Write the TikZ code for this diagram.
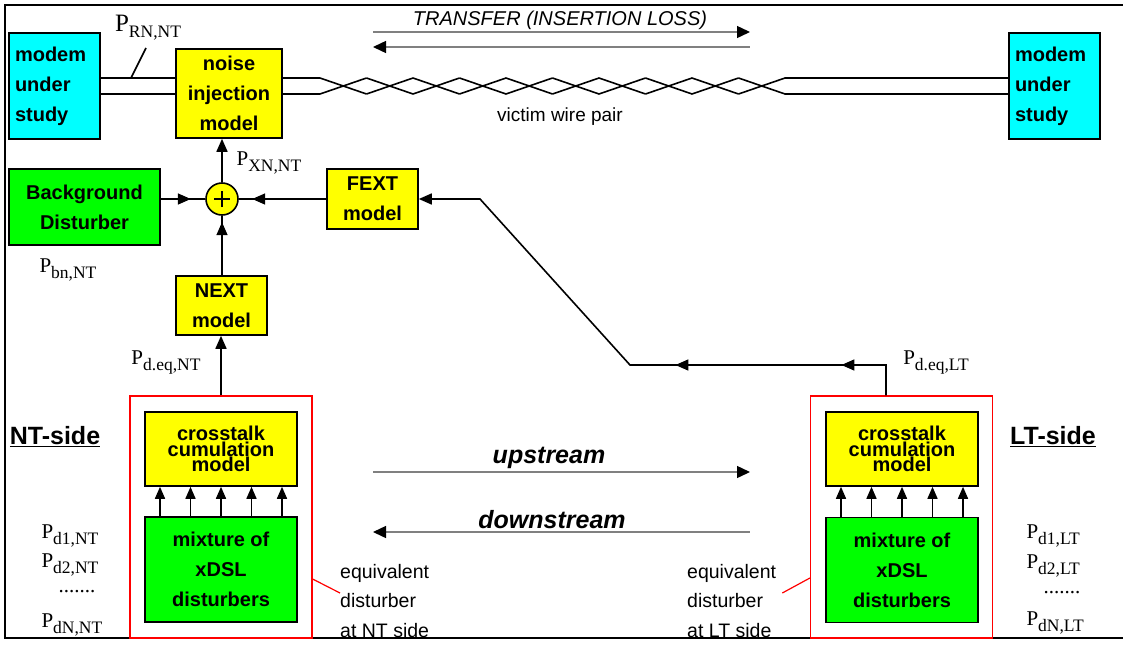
\documentclass[tikz,border=0pt]{standalone}
\usepackage{fontspec}
\setmainfont{Liberation Serif}
\setsansfont{Liberation Sans}
\usetikzlibrary{arrows.meta,decorations.markings}
\definecolor{modemcyan}{RGB}{0,255,255}
\definecolor{boxyellow}{RGB}{255,255,0}
\definecolor{boxgreen}{RGB}{0,255,0}
\newcommand{\psub}[2][21]{{\fontsize{#1}{#1}\selectfont P\raisebox{-6pt}{\fontsize{17.5}{17.5}\selectfont #2}}}

\begin{document}
\begin{tikzpicture}[x=1pt,y=-1pt,>={Triangle[length=13pt,width=11pt]}]
% Page size
\useasboundingbox (0,0) rectangle (1123,645);

\tikzstyle{box} = [draw, shape=rectangle, line width=1.6pt, inner sep=0pt, align=center, font=\sffamily\bfseries\fontsize{20}{30}\selectfont]
\tikzstyle{modem} = [box, fill=modemcyan, align=left, inner xsep=6pt, text width=79pt, minimum height=106pt]
\tikzstyle{ybox} = [box, fill=boxyellow]
\tikzstyle{gbox} = [box, fill=boxgreen]
\tikzstyle{xbox} = [box, fill=boxyellow, minimum width=152pt, minimum height=74pt, font=\sffamily\bfseries\fontsize{20}{14}\selectfont]
\tikzstyle{mixbox} = [box, fill=boxgreen, minimum width=152pt, minimum height=105pt]
\tikzstyle{grp} = [draw=red, line width=1.2pt, shape=rectangle, minimum width=182pt, minimum height=242pt]
\tikzstyle{sum} = [draw, shape=circle, fill=boxyellow, line width=1.6pt, minimum size=32pt, inner sep=0pt]
\tikzstyle{wire} = [line width=1.6pt]
\tikzstyle{conn} = [line width=1.6pt]
\tikzstyle{garr} = [draw=gray, line width=1.4pt, >={Triangle[length=13pt,width=12pt,color=black]}]
\tikzstyle{note} = [align=left, inner sep=0pt, font=\sffamily\fontsize{19.5}{29.5}\selectfont]
\tikzstyle{side} = [inner sep=0pt, font=\sffamily\bfseries\fontsize{25}{25}\selectfont]
\tikzstyle{stream} = [inner sep=0pt, font=\sffamily\bfseries\itshape\fontsize{25}{25}\selectfont]
\tikzset{marr/.style={postaction={decorate},decoration={markings,mark=at position #1 with {\arrow{>}}}}}

% Frame
\draw[line width=2pt] (1123,5) -- (5,5) -- (5,638) -- (1123,638);

% Modems and noise injection
\node at (54.5,86)[modem](modemL){modem\\under\\study};
\node at (1054.5,86)[modem](modemR){modem\\under\\study};
\node at (229,93.5)[ybox, minimum width=106pt, minimum height=89pt](noise){noise\\injection\\model};

% Wire pair
\coordinate (wt) at (0,78);
\coordinate (wb) at (0,94);
\draw[wire] (modemL.east |- wt) -- (noise.west |- wt) (modemL.east |- wb) -- (noise.west |- wb);
\draw[wire] (noise.east |- wt) -- (320,78) (noise.east |- wb) -- (320,94);
\foreach \k in {0,...,9}
  \draw[wire] ({320+46.5*\k},78) -- ({366.5+46.5*\k},94) ({320+46.5*\k},94) -- ({366.5+46.5*\k},78);
\draw[wire] (785,78) -- (modemR.west |- wt) (785,94) -- (modemR.west |- wb);
\draw[wire] (131,78) -- (146,48);
\node at (148,28)(prn){\psub[25]{RN,NT}};
\node at (560,117)[font=\sffamily\fontsize{19}{19}\selectfont](victim){victim wire pair};

% Transfer
\node at (560,20)[font=\sffamily\itshape\fontsize{20}{20}\selectfont](transfer){TRANSFER (INSERTION LOSS)};
\coordinate (trL) at (373,32);
\coordinate (trR) at (750,32);
\draw[garr,->] (trL) -- (trR);
\draw[garr,<-] ([yshift=-15pt]trL) -- ([yshift=-15pt]trR);

% Summation
\node at (222,199)[sum](sum){};
\draw[line width=1.2pt] ([xshift=-8pt]sum.center) -- ([xshift=8pt]sum.center) ([yshift=-8pt]sum.center) -- ([yshift=8pt]sum.center);
\node at (84.5,207)[gbox, minimum width=151pt, minimum height=76pt](bgd){Background\\Disturber};
\node at (372.5,199)[ybox, minimum width=91pt, minimum height=60pt](fext){FEXT\\model};
\node at (221.5,305.5)[ybox, minimum width=91pt, minimum height=59pt](next){NEXT\\model};
\draw[conn,->] (sum) -- (sum |- noise.south);
\draw[conn,marr=30pt] (bgd.east |- sum) -- (sum);
\draw[conn,marr=74pt] (fext) -- (sum);
\draw[conn,marr=53pt] (next.north -| sum) -- (sum);
\node at (269,163)(pxn){\psub{XN,NT}};
\node at (68,270)(pbn){\psub{bn,NT}};

% NT side
\node at (221,517)[grp](grpNT){};
\node at (221,449)[xbox](xtNT){crosstalk\\cumulation\\model};
\node at (221,569.5)[mixbox](mixNT){mixture of\\xDSL\\disturbers};
\foreach \dx in {-61,-30.5,0,30.5,61}
  \draw[conn,-{Triangle[length=12pt,width=10pt]}] ([xshift=\dx pt]mixNT.north) -- ([xshift=\dx pt]xtNT.south);
\draw[conn,->] (grpNT.north) -- (grpNT.north |- next.south);
\node at (166,362)(pdeqNT){\psub{d.eq,NT}};
\node at (55,437)[side](ntside){\underline{NT-side}};
\node[anchor=base west] at (38,538)(pd1NT){\psub{d1,NT}};
\node[anchor=base west] at (38,567)(pd2NT){\psub{d2,NT}};
\node[anchor=base west] at (55,592)(dotsNT){\fontsize{21}{21}\selectfont .......};
\node[anchor=base west] at (38,627)(pdnNT){\psub{dN,NT}};
\node at (340,601)[note, anchor=west](eqNT){equivalent\\disturber\\at NT side};
\draw[red, line width=1.2pt] ([yshift=-62pt]grpNT.east) -- ([yshift=8pt]eqNT.west);

% LT side
\node at (901.5,517)[grp](grpLT){};
\node at (902,449)[xbox](xtLT){crosstalk\\cumulation\\model};
\node at (902,570)[mixbox](mixLT){mixture of\\xDSL\\disturbers};
\foreach \dx in {-61,-30.5,0,30.5,61}
  \draw[conn,-{Triangle[length=12pt,width=10pt]}] ([xshift=\dx pt]mixLT.north) -- ([xshift=\dx pt]xtLT.south);
\coordinate (c1) at (886,365);
\coordinate (c2) at (630,365);
\coordinate (c3) at (480,199);
\draw[conn,->,postaction={decorate},decoration={markings,mark=at position 75pt with {\arrow{>}},mark=at position 241pt with {\arrow{>}}}] (grpLT.north -| c1) -- (c1) -- (c2) -- (c3) -- (fext.east |- c3);
\node at (936,362)(pdeqLT){\psub{d.eq,LT}};
\node at (1053,437)[side](ltside){\underline{LT-side}};
\node[anchor=base west] at (1023,538)(pd1LT){\psub{d1,LT}};
\node[anchor=base west] at (1023,568)(pd2LT){\psub{d2,LT}};
\node[anchor=base west] at (1040,593)(dotsLT){\fontsize{21}{21}\selectfont .......};
\node[anchor=base west] at (1023,625)(pdnLT){\psub{dN,LT}};
\node at (687,601)[note, anchor=west](eqLT){equivalent\\disturber\\at LT side};
\draw[red, line width=1.2pt] ([yshift=-61pt]grpLT.west) -- ([xshift=6pt,yshift=8pt]eqLT.east);

% Up- and downstream
\node at (549,458)[stream](up){upstream};
\node at (552,520)[stream](down){downstream};
\coordinate (usL) at (373,472);
\coordinate (usR) at (750,472);
\draw[garr,->] (usL) -- (usR);
\draw[garr,<-] ([yshift=-60pt]usL) -- ([yshift=-60pt]usR);

\end{tikzpicture}
\end{document}
